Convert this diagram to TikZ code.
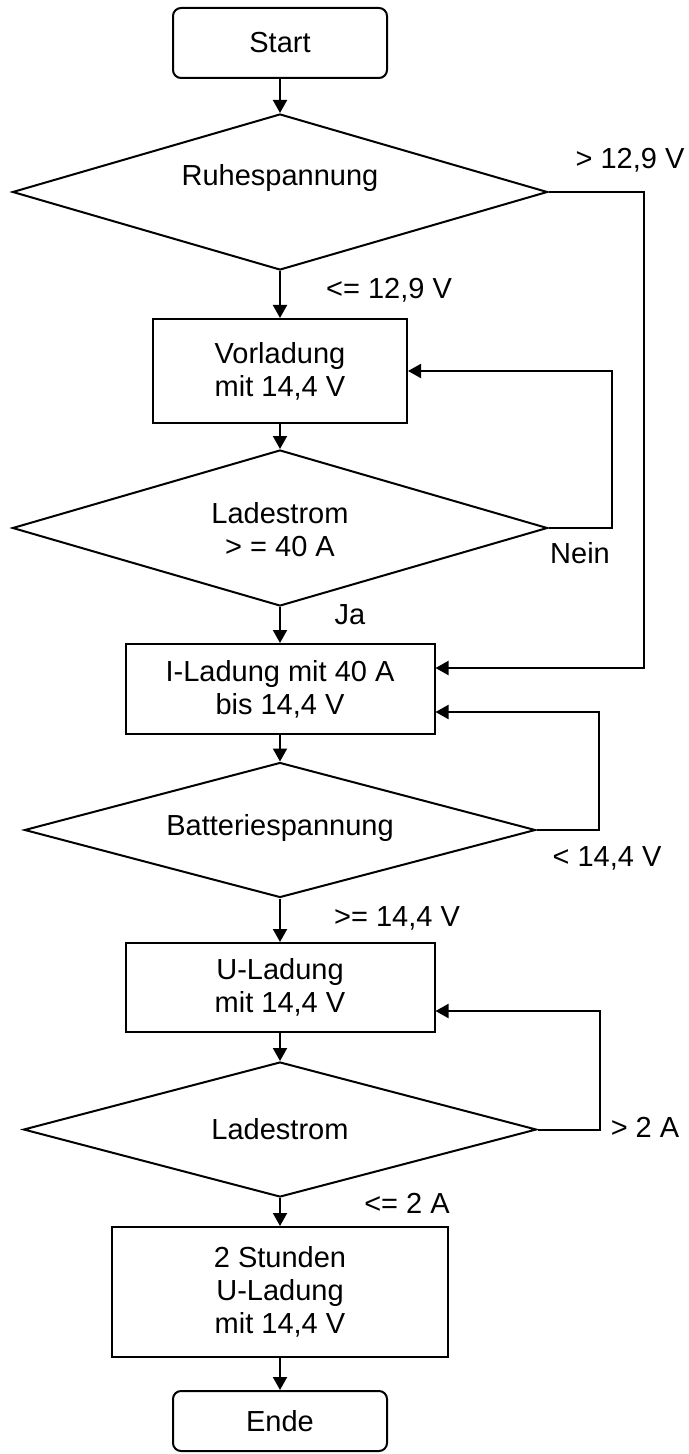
\documentclass[tikz,border=0pt]{standalone}
\usepackage{fontspec}
\setmainfont{Liberation Sans}
\usetikzlibrary{shapes.geometric,arrows.meta}
\begin{document}
\begin{tikzpicture}[x=0.5pt,y=-0.5pt,
  every node/.style={font=\fontsize{14.5}{16.5}\selectfont, inner sep=0pt, align=center},
  term/.style={draw, line width=1pt, rounded corners=4pt, minimum width=107pt},
  proc/.style={draw, line width=1pt, minimum width=154.5pt},
  dec/.style={draw, diamond, line width=1pt},
  arr/.style={line width=1pt, -{Triangle[length=6.5pt,width=7pt]}}]
\useasboundingbox (0,0) rectangle (689,1454);
% nodes
\node[term, minimum height=35pt] (start) at (280,43) {Start};
\node[dec, minimum width=267.5pt, minimum height=78pt] (d1) at (280,192) {};
\node (d1t) at (280,178) {Ruhespannung};
\node[proc, minimum width=127pt, minimum height=52pt] (v) at (280,371) {Vorladung\\mit 14,4 V};
\node[dec, minimum width=267.5pt, minimum height=78pt] (d2) at (280,528) {};
\node (d2t) at (280,530) {Ladestrom\\> = 40 A};
\node[proc, minimum height=45pt] (i) at (280,689) {I-Ladung mit 40 A\\bis 14,4 V};
\node[dec, minimum width=255.5pt, minimum height=67.5pt] (d3) at (280,830) {};
\node (d3t) at (280,828) {Batteriespannung};
\node[proc, minimum height=44.5pt] (u) at (280,987.5) {U-Ladung\\mit 14,4 V};
\node[dec, minimum width=256.5pt, minimum height=67.5pt] (d4) at (280,1129.5) {};
\node (d4t) at (280,1129.5) {Ladestrom};
\node[proc, minimum width=168pt, minimum height=65pt] (s) at (280,1292) {2 Stunden\\U-Ladung\\mit 14,4 V};
\node[term, minimum height=30pt] (ende) at (280,1421) {Ende};
% labels
\node (l1) at (630,160) {> 12,9 V};
\node (l2) at (389,290) {<= 12,9 V};
\node (l3) at (580,553) {Nein};
\node (l4) at (350,615) {Ja};
\node (l5) at (607,858) {< 14,4 V};
\node (l6) at (397,918) {>= 14,4 V};
\node (l7) at (645,1127) {> 2 A};
\node (l8) at (407,1203) {<= 2 A};
% connectors
\draw[arr] (start) -- (d1);
\draw[arr] (d1) -- (v);
\draw[arr] (v) -- (d2);
\draw[arr] (d2) -- (i);
\draw[arr] (i) -- (d3);
\draw[arr] (d3) -- (u);
\draw[arr] (u) -- (d4);
\draw[arr] (d4) -- (s);
\draw[arr] (s) -- (ende);
\draw[arr] (d1.east) -- ++(95,0) |- ([yshift=10.5pt]i.east);
\draw[arr] (d2.east) -- ++(63.5,0) |- (v.east);
\draw[arr] (d3.east) -- ++(62.5,0) |- ([yshift=-11.5pt]i.east);
\draw[arr] (d4.east) -- ++(62,0) |- ([yshift=-11.75pt]u.east);
\end{tikzpicture}
\end{document}
